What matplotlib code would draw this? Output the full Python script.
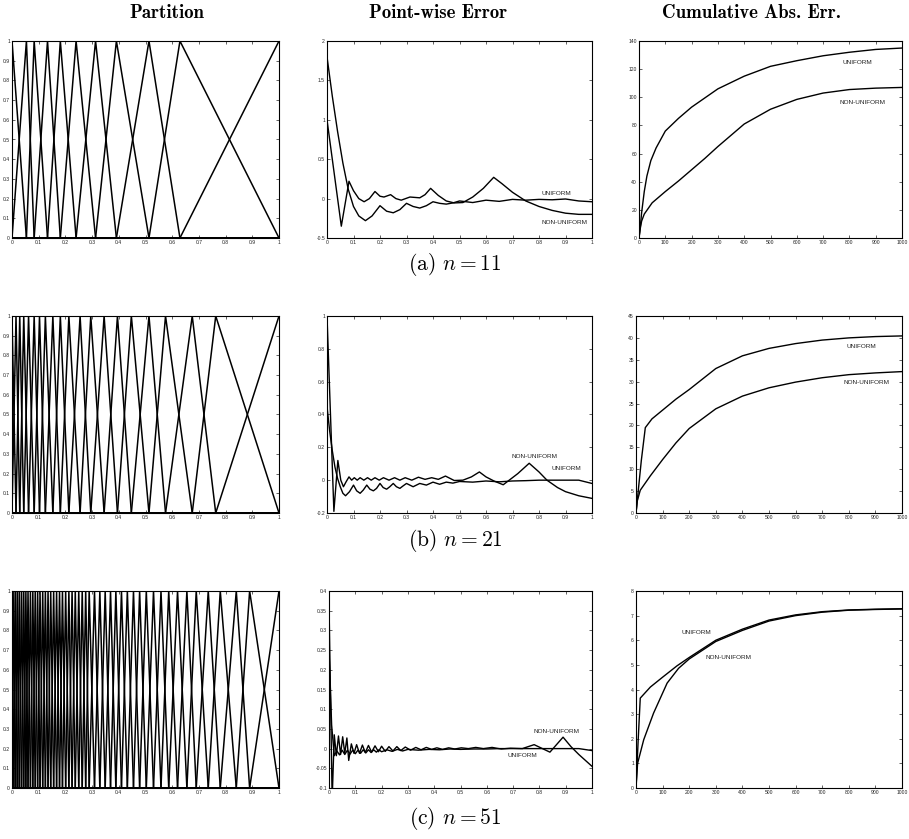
import numpy as np
import matplotlib
matplotlib.use("Agg")
import matplotlib.pyplot as plt
from matplotlib.ticker import FormatStrFormatter, MultipleLocator

plt.rcParams['mathtext.fontset'] = 'cm'
plt.rcParams['axes.unicode_minus'] = False

# ---- partition nodes ----
nodes_a = [0, 0.054, 0.083, 0.133, 0.181, 0.240, 0.313, 0.391, 0.513, 0.629, 1.0]
nodes_b = [0, 0.015, 0.029, 0.044, 0.062, 0.083, 0.103, 0.125, 0.153, 0.181, 0.213,
           0.255, 0.295, 0.345, 0.395, 0.447, 0.513, 0.575, 0.675, 0.763, 1.0]
nodes_c = [0, 0.007, 0.014, 0.021, 0.028, 0.036, 0.044, 0.052, 0.060, 0.069,
           0.078, 0.087, 0.096, 0.105, 0.115, 0.125, 0.135, 0.145, 0.156, 0.167,
           0.178, 0.189, 0.201, 0.213, 0.225, 0.237, 0.250, 0.263, 0.276, 0.289,
           0.309, 0.329, 0.349, 0.369, 0.389, 0.410, 0.432, 0.455, 0.478, 0.503,
           0.530, 0.558, 0.587, 0.620, 0.655, 0.690, 0.735, 0.780, 0.840, 0.890, 1.0]

# ---- point-wise error ----
pu_a_x = [0, 0.02, 0.04, 0.06, 0.08, 0.1, 0.12, 0.145, 0.17, 0.2, 0.225, 0.25, 0.275, 0.3,
          0.325, 0.35, 0.375, 0.4, 0.425, 0.45, 0.475, 0.5, 0.55, 0.6, 0.65, 0.7, 0.75,
          0.8, 0.85, 0.9, 0.95, 1.0]
pu_a_y = [1.8, 1.3, 0.85, 0.45, 0.12, -0.1, -0.22, -0.28, -0.22, -0.09, -0.16, -0.18, -0.14,
          -0.06, -0.1, -0.12, -0.09, -0.04, -0.06, -0.07, -0.055, -0.03, -0.05, -0.02, -0.035,
          -0.01, -0.02, -0.01, -0.015, -0.005, -0.03, -0.04]
pn_a_x = [0, 0.054, 0.083, 0.1, 0.12, 0.14, 0.16, 0.181, 0.2, 0.215, 0.24, 0.26, 0.28, 0.313,
          0.35, 0.37, 0.391, 0.42, 0.45, 0.48, 0.513, 0.55, 0.59, 0.629, 0.66, 0.7, 0.75, 0.8,
          0.85, 0.9, 0.95, 1.0]
pn_a_y = [1.0, -0.35, 0.22, 0.1, 0.0, -0.04, 0.0, 0.09, 0.03, 0.02, 0.05, 0.0, -0.02, 0.02,
          0.01, 0.05, 0.13, 0.04, -0.03, -0.055, -0.05, 0.02, 0.13, 0.27, 0.19, 0.08, -0.03,
          -0.1, -0.15, -0.185, -0.2, -0.2]

pu_b_x = [0, 0.01, 0.02, 0.03, 0.04, 0.05, 0.06, 0.07, 0.085, 0.1, 0.112, 0.125, 0.137, 0.15,
          0.162, 0.175, 0.187, 0.2, 0.212, 0.225, 0.237, 0.25, 0.262, 0.275, 0.287, 0.3, 0.325,
          0.35, 0.375, 0.4, 0.425, 0.45, 0.475, 0.5, 0.55, 0.6, 0.65, 0.7, 0.75, 0.8, 0.85,
          0.9, 0.95, 1.0]
pu_b_y = [0.45, 0.3, 0.18, 0.08, 0.01, -0.04, -0.08, -0.095, -0.07, -0.03, -0.065, -0.08,
          -0.06, -0.03, -0.055, -0.065, -0.05, -0.02, -0.045, -0.055, -0.04, -0.02, -0.04,
          -0.05, -0.035, -0.02, -0.04, -0.02, -0.03, -0.012, -0.025, -0.012, -0.018, -0.008,
          -0.012, -0.005, -0.01, -0.005, -0.003, 0.0, 0.0, 0.0, 0.0, -0.02]
pn_b_x = [0, 0.026, 0.041, 0.052, 0.062, 0.072, 0.083, 0.093, 0.103, 0.114, 0.125, 0.139,
          0.153, 0.167, 0.181, 0.197, 0.213, 0.234, 0.255, 0.275, 0.295, 0.32, 0.345, 0.37,
          0.395, 0.42, 0.447, 0.48, 0.513, 0.545, 0.575, 0.6, 0.63, 0.665, 0.72, 0.763, 0.8,
          0.83, 0.87, 0.9, 0.95, 1.0]
pn_b_y = [1.0, -0.19, 0.12, 0.0, -0.04, -0.01, 0.02, 0.0, 0.015, 0.0, 0.015, 0.0, 0.015, 0.0,
          0.015, 0.0, 0.015, 0.0, 0.015, 0.0, 0.015, 0.0, 0.018, 0.005, 0.015, 0.005, 0.025,
          -0.002, 0.0, 0.02, 0.05, 0.02, -0.005, -0.028, 0.04, 0.103, 0.05, 0.0, -0.045,
          -0.07, -0.095, -0.111]

pu_c_x = [0, 0.01, 0.02, 0.03, 0.04, 0.05, 0.06, 0.07, 0.08, 0.09, 0.10, 0.11, 0.12, 0.13,
          0.14, 0.15, 0.16, 0.17, 0.18, 0.19, 0.20, 0.22, 0.24, 0.26, 0.28, 0.30, 0.34, 0.38,
          0.42, 0.46, 0.5, 0.55, 0.6, 0.65, 0.7, 0.75, 0.8, 0.85, 0.9, 0.95, 1.0]
pu_c_y = [0.25, 0.06, -0.018, -0.006, -0.016, -0.004, -0.015, -0.004, -0.014, -0.004, -0.013,
          -0.004, -0.012, -0.003, -0.011, -0.003, -0.01, -0.003, -0.009, -0.003, -0.008,
          -0.003, -0.007, -0.002, -0.006, -0.002, -0.004, -0.002, -0.003, -0.001, -0.002,
          -0.001, -0.001, 0.0, 0.0, 0.0, 0.0, 0.0, 0.0, 0.0, -0.005]
pn_c_x = [0, 0.012, 0.02, 0.028, 0.036, 0.044, 0.052, 0.06, 0.068, 0.075, 0.085, 0.095,
          0.105, 0.116, 0.127, 0.138, 0.15, 0.162, 0.175, 0.188, 0.2, 0.214, 0.228, 0.243,
          0.258, 0.273, 0.29, 0.31, 0.33, 0.35, 0.37, 0.39, 0.41, 0.432, 0.455, 0.478, 0.503,
          0.53, 0.558, 0.587, 0.62, 0.655, 0.69, 0.735, 0.78, 0.84, 0.89, 0.92, 0.95, 0.975, 1.0]
pn_c_y = [0.37, -0.13, 0.035, -0.018, 0.032, -0.015, 0.03, -0.012, 0.027, -0.03, 0.012,
          -0.012, 0.01, -0.012, 0.009, -0.01, 0.008, -0.009, 0.007, -0.008, 0.006, -0.007,
          0.005, -0.006, 0.005, -0.005, 0.004, -0.004, 0.003, -0.003, 0.003, -0.002, 0.002,
          -0.002, 0.002, -0.001, 0.002, 0.0, 0.003, 0.0, 0.003, -0.001, 0.001, 0.0, 0.01,
          -0.009, 0.029, 0.005, -0.015, -0.03, -0.045]

# ---- cumulative absolute error ----
cu_a_x = [0, 5, 10, 20, 30, 45, 65, 100, 150, 200, 300, 400, 500, 600, 700, 800, 900, 1000]
cu_a_y = [0, 8, 18, 33, 44, 55, 64, 76, 85, 93, 106, 115, 122, 126, 129.5, 132, 134, 135]
cn_a_x = [0, 5, 10, 20, 50, 100, 150, 200, 250, 300, 400, 500, 600, 700, 800, 900, 1000]
cn_a_y = [0, 7, 12, 17, 25, 33, 40.5, 48.5, 56.5, 65, 81, 91.5, 98.5, 103, 105.5, 106.5, 107]

cu_b_x = [0, 10, 20, 35, 60, 100, 150, 200, 300, 400, 500, 600, 700, 800, 900, 1000]
cu_b_y = [0, 6, 12, 19.5, 21.5, 23.5, 26, 28.2, 33, 35.9, 37.6, 38.7, 39.5, 40, 40.3, 40.45]
cn_b_x = [0, 5, 16, 54, 100, 150, 200, 300, 400, 500, 600, 700, 800, 900, 1000]
cn_b_y = [0, 2.8, 5.2, 8.5, 12.2, 16, 19.3, 23.8, 26.7, 28.6, 29.9, 30.9, 31.6, 32, 32.3]

cu_c_x = [0, 8, 16, 54, 100, 154, 200, 300, 400, 500, 600, 700, 800, 900, 1000]
cu_c_y = [0, 1.9, 3.65, 4.1, 4.5, 4.96, 5.3, 6.0, 6.45, 6.82, 7.03, 7.16, 7.23, 7.26, 7.28]
cn_c_x = [0, 6, 29, 66, 117, 160, 200, 300, 400, 500, 600, 700, 800, 900, 1000]
cn_c_y = [0, 1.0, 1.96, 3.04, 4.26, 4.86, 5.24, 5.95, 6.4, 6.78, 7.0, 7.14, 7.22, 7.25, 7.27]

headers = ["Partition", "Point-wise Error", "Cumulative Abs. Err."]
captions = [r"(a) $n = 11$", r"(b) $n = 21$", r"(c) $n = 51$"]

W, H = 909, 839
fig = plt.figure(figsize=(W / 100, H / 100), dpi=100)


def add_ax(l, t, r, b):
    ax = fig.add_axes([l / W, 1 - b / H, (r - l) / W, (b - t) / H])
    ax.tick_params(direction='in', top=True, right=True, length=2.2, width=0.5,
                   labelsize=3.6, pad=1.5, colors='#222222')
    for s in ax.spines.values():
        s.set_linewidth(0.8)
    return ax


def style_unit_x(ax):
    ax.set_xlim(0, 1)
    ax.xaxis.set_major_locator(MultipleLocator(0.1))
    ax.xaxis.set_major_formatter(FormatStrFormatter('%g'))


def fix_fonts(ax):
    for lab in ax.get_xticklabels() + ax.get_yticklabels():
        lab.set_family('Liberation Sans')


def label(ax, x, y, s):
    ax.text(x, y, s, fontsize=4.6, family='Liberation Sans', color='#222222',
            ha='center', va='center')


rows_top = [41, 316, 591]
rows_bot = [238, 513, 788]
col_lr = [[(12, 279), (327, 592), (639, 902)],
          [(12, 279), (327, 592), (636, 902)],
          [(12, 279), (329, 592), (636, 902)]]

node_sets = [nodes_a, nodes_b, nodes_c]
pw = [((pu_a_x, pu_a_y), (pn_a_x, pn_a_y), (-0.5, 2, 0.5)),
      ((pu_b_x, pu_b_y), (pn_b_x, pn_b_y), (-0.2, 1, 0.2)),
      ((pu_c_x, pu_c_y), (pn_c_x, pn_c_y), (-0.1, 0.4, 0.05))]
cm = [((cu_a_x, cu_a_y), (cn_a_x, cn_a_y), (0, 140, 20)),
      ((cu_b_x, cu_b_y), (cn_b_x, cn_b_y), (0, 45, 5)),
      ((cu_c_x, cu_c_y), (cn_c_x, cn_c_y), (0, 8, 1))]
pw_labels = [[(0.866, 0.07, "UNIFORM"), (0.897, -0.30, "NON-UNIFORM")],
             [(0.903, 0.073, "UNIFORM"), (0.784, 0.144, "NON-UNIFORM")],
             [(0.735, -0.017, "UNIFORM"), (0.864, 0.044, "NON-UNIFORM")]]
cm_labels = [[(829, 125, "UNIFORM"), (848, 96, "NON-UNIFORM")],
             [(847, 38, "UNIFORM"), (868, 29.8, "NON-UNIFORM")],
             [(226, 6.32, "UNIFORM"), (346, 5.3, "NON-UNIFORM")]]

for r in range(3):
    t, b = rows_top[r], rows_bot[r]

    # partition: one hat function per node
    l, rr = col_lr[r][0]
    ax = add_ax(l, t, rr, b)
    nd = np.array(node_sets[r])
    for i in range(len(nd)):
        hat = np.zeros(len(nd))
        hat[i] = 1.0
        ax.plot(nd, hat, color='black', lw=1.1)
    style_unit_x(ax)
    ax.set_ylim(0, 1)
    ax.yaxis.set_major_locator(MultipleLocator(0.1))
    ax.yaxis.set_major_formatter(FormatStrFormatter('%g'))
    fix_fonts(ax)

    # point-wise error
    l, rr = col_lr[r][1]
    ax = add_ax(l, t, rr, b)
    (ux, uy), (nx, ny), (y0, y1, st) = pw[r]
    ax.plot(ux, uy, color='black', lw=1.0)
    ax.plot(nx, ny, color='black', lw=1.0)
    style_unit_x(ax)
    ax.set_ylim(y0, y1)
    ax.yaxis.set_major_locator(MultipleLocator(st))
    ax.yaxis.set_major_formatter(FormatStrFormatter('%g'))
    for x, y, s in pw_labels[r]:
        label(ax, x, y, s)
    fix_fonts(ax)

    # cumulative absolute error
    l, rr = col_lr[r][2]
    ax = add_ax(l, t, rr, b)
    (ux, uy), (nx, ny), (y0, y1, st) = cm[r]
    ax.plot(ux, uy, color='black', lw=1.0)
    ax.plot(nx, ny, color='black', lw=1.0)
    ax.set_xlim(0, 1000)
    ax.xaxis.set_major_locator(MultipleLocator(100))
    ax.set_ylim(y0, y1)
    ax.yaxis.set_major_locator(MultipleLocator(st))
    ax.yaxis.set_major_formatter(FormatStrFormatter('%g'))
    for x, y, s in cm_labels[r]:
        label(ax, x, y, s)
    fix_fonts(ax)

header_x = [167, 438, 751]
for hx, s in zip(header_x, headers):
    fig.text(hx / W, 1 - 13 / H, s, family=['cmb10', 'DejaVu Serif'], fontsize=13.5,
             ha='center', va='center')

caption_y = [264, 541, 819]
for cy, s in zip(caption_y, captions):
    fig.text(455 / W, 1 - cy / H, s, family=['cmr10', 'DejaVu Serif'], fontsize=15.5,
             ha='center', va='center')

fig.savefig("out.png", dpi=100)
